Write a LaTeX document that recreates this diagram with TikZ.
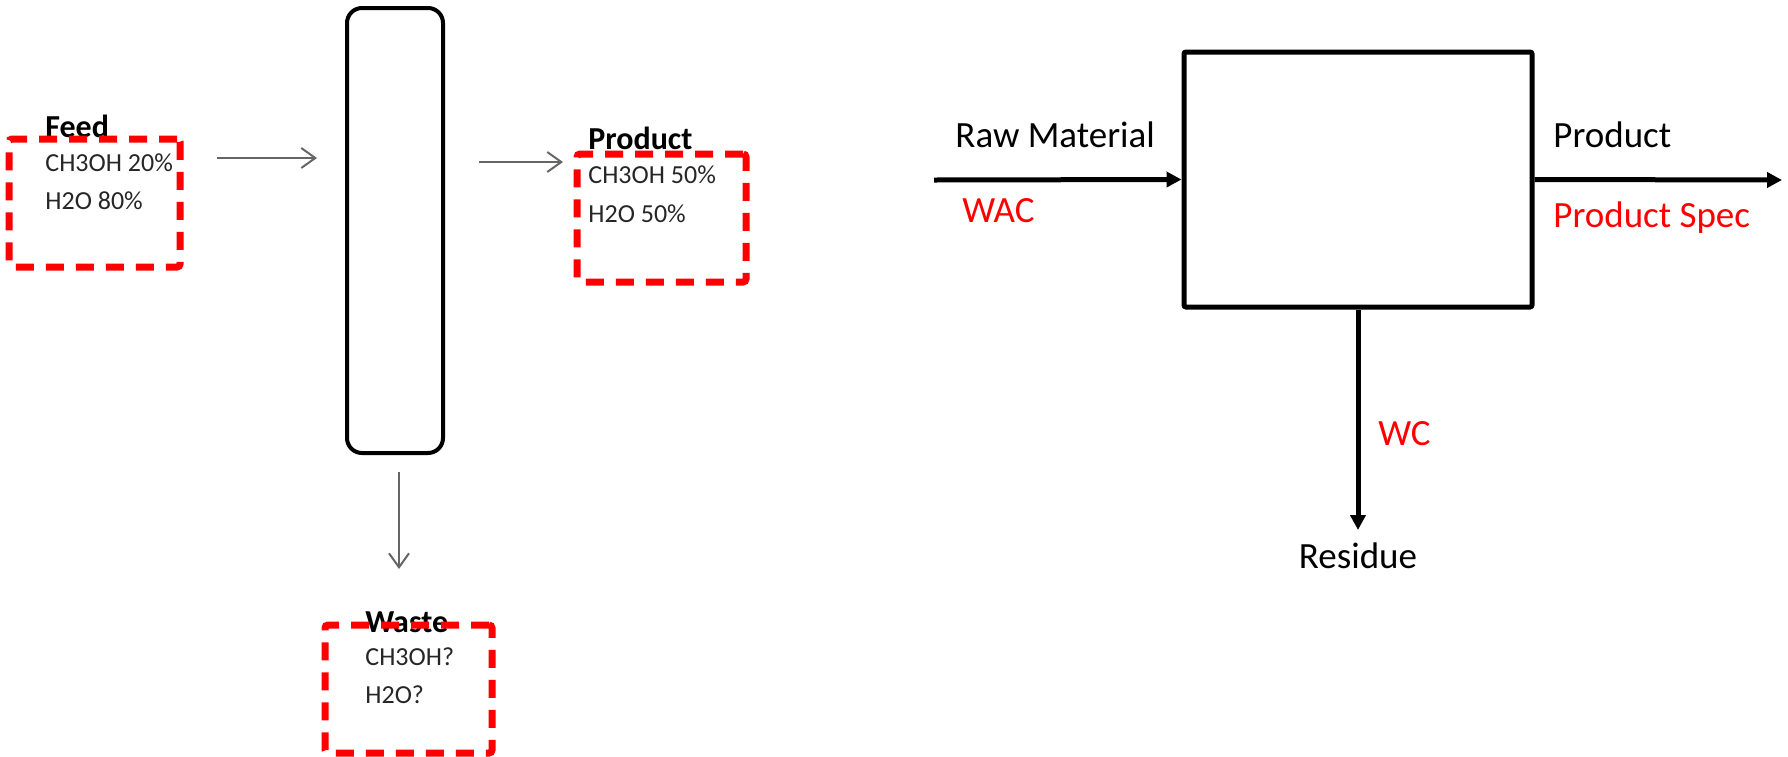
\documentclass[tikz,border=0pt]{standalone}
\usepackage{fontspec}
\setmainfont{Carlito}
\usetikzlibrary{arrows.meta}

\begin{document}
\begin{tikzpicture}[x=0.5pt, y=-0.5pt,
		stream/.style={draw=black!60, line width=1pt, -{Straight Barb[length=7pt,width=10pt]}},
		flow/.style={line width=2.5pt, -{Triangle[length=7.5pt,width=7.5pt]}},
		spec/.style={draw=red, line width=3.5pt, dash pattern=on 9pt off 6pt, rounded corners=1.5pt, minimum width=#1, minimum height=64pt, inner sep=0pt},
		head/.style={anchor=base west, inner sep=0pt, font=\fontsize{16}{19}\selectfont\bfseries},
		comp/.style={anchor=base west, inner sep=0pt, text=black!85, font=\fontsize{13}{15}\selectfont},
		tag/.style={anchor=base west, inner sep=0pt, font=\fontsize{18.5}{22}\selectfont}]
	\useasboundingbox (0,0) rectangle (1788,756);

	\node[draw, line width=2pt, rounded corners=7.5pt, minimum width=48pt, minimum height=222.5pt] (column) at (395,230.5) {};

	\node[head] (feed) at (45,137) {Feed};
	\node[comp] (feed1) at (45,171) {CH3OH 20\%};
	\node[comp] (feed2) at (45,209) {H2O 80\%};
	\node[head] (prod) at (588,149) {Product};
	\node[comp] (prod1) at (588,183) {CH3OH 50\%};
	\node[comp] (prod2) at (588,222) {H2O 50\%};
	\node[head] (waste) at (365,632) {Waste};
	\node[comp] (waste1) at (365,665) {CH3OH?};
	\node[comp] (waste2) at (365,703) {H2O?};

	\node[spec=85.5pt] (feedbox) at (94.5,203) {};
	\node[spec=84.5pt] (prodbox) at (661.5,218) {};
	\node[spec=83.5pt] (wastebox) at (408.5,689) {};

	\coordinate (feedout) at (217,158);
	\coordinate (colin) at (317,158);
	\coordinate (colout) at (479,162);
	\coordinate (prodin) at (563,162);
	\coordinate (colbot) at (399,472);
	\coordinate (wastein) at (399,569);
	\draw[stream] (feedout) -- (colin);
	\draw[stream] (colout) -- (prodin);
	\draw[stream] (colbot) -- (wastein);

	\node[draw, line width=2.5pt, rounded corners=1pt, minimum width=174pt, minimum height=127.5pt] (unit) at (1358,179.5) {};
	\coordinate (rawin) at (934,180);
	\coordinate (prodout) at (1782,180);
	\coordinate (resout) at (1358,530);
	\draw[flow] (rawin) -- (unit.west);
	\draw[flow] (unit.east) -- (prodout);
	\draw[flow] (unit.south) -- (resout);

	\node[tag] (raw) at (955,147) {Raw Material};
	\node[tag, text=red] (wac) at (962,222) {WAC};
	\node[tag] (product) at (1553,147) {Product};
	\node[tag, text=red] (pspec) at (1553,227) {Product Spec};
	\node[tag, text=red] (wc) at (1378,445) {WC};
	\node[tag, anchor=base] (residue) at (1358,568) {Residue};
\end{tikzpicture}
\end{document}
